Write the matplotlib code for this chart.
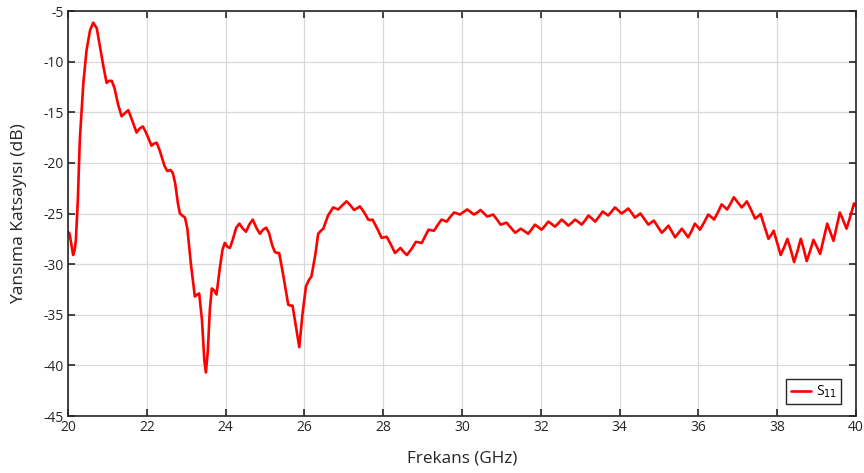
import matplotlib
matplotlib.use("Agg")
import matplotlib.pyplot as plt

plt.rcParams['font.family'] = ['Open Sans', 'DejaVu Sans']

# Measured reflection coefficient S11 (dB) versus frequency (GHz)
freq_ghz = [
    20.00, 20.04, 20.09, 20.13, 20.17, 20.20, 20.25, 20.30, 20.35, 20.39,
    20.47, 20.56, 20.64, 20.73, 20.81, 20.90, 20.98, 21.04, 21.11, 21.18,
    21.27, 21.36, 21.44, 21.53, 21.60, 21.74, 21.82, 21.90, 21.98, 22.12,
    22.18, 22.25, 22.33, 22.45, 22.52, 22.60, 22.66, 22.72, 22.79, 22.84,
    22.90, 22.97, 23.03, 23.12, 23.22, 23.28, 23.33, 23.40, 23.46, 23.50,
    23.55, 23.60, 23.65, 23.71, 23.77, 23.85, 23.92, 23.98, 24.05, 24.11,
    24.18, 24.27, 24.35, 24.44, 24.52, 24.60, 24.69, 24.78, 24.87, 24.95,
    25.03, 25.10, 25.18, 25.25, 25.31, 25.36, 25.45, 25.59, 25.65, 25.70,
    25.80, 25.87, 25.95, 26.04, 26.11, 26.18, 26.28, 26.35, 26.42, 26.48,
    26.60, 26.73, 26.86, 26.96, 27.07, 27.17, 27.26, 27.33, 27.41, 27.52,
    27.62, 27.68, 27.73, 27.85, 27.96, 28.02, 28.09, 28.20, 28.30, 28.37,
    28.44, 28.52, 28.60, 28.72, 28.83, 28.90, 28.98, 29.07, 29.15, 29.22,
    29.29, 29.39, 29.48, 29.55, 29.61, 29.71, 29.80, 29.88, 29.95, 30.04,
    30.13, 30.22, 30.30, 30.39, 30.47, 30.56, 30.64, 30.72, 30.79, 30.89,
    30.98, 31.06, 31.13, 31.24, 31.35, 31.42, 31.49, 31.59, 31.68, 31.77,
    31.85, 31.94, 32.02, 32.11, 32.19, 32.28, 32.36, 32.45, 32.53, 32.62,
    32.70, 32.79, 32.87, 32.96, 33.04, 33.13, 33.21, 33.30, 33.38, 33.48,
    33.57, 33.64, 33.71, 33.80, 33.88, 33.97, 34.05, 34.14, 34.22, 34.31,
    34.39, 34.46, 34.53, 34.63, 34.73, 34.80, 34.87, 34.97, 35.07, 35.16,
    35.24, 35.33, 35.41, 35.50, 35.58, 35.66, 35.74, 35.83, 35.91, 35.98,
    36.04, 36.15, 36.25, 36.33, 36.40, 36.50, 36.59, 36.66, 36.73, 36.82,
    36.90, 37.00, 37.10, 37.17, 37.23, 37.34, 37.44, 37.51, 37.58, 37.68,
    37.78, 37.85, 37.91, 38.00, 38.09, 38.18, 38.26, 38.35, 38.43, 38.52,
    38.60, 38.68, 38.75, 38.84, 38.92, 39.01, 39.09, 39.18, 39.27, 39.35,
    39.43, 39.51, 39.59, 39.68, 39.76, 39.86, 39.95, 40.00,
]
s11_db = [
    -26.8, -27.0, -28.2, -29.1, -28.6, -27.6, -23.7, -17.7, -14.5, -12.1,
    -8.9, -6.9, -6.15, -6.7, -8.5, -10.5, -12.1, -11.9, -11.9, -12.6,
    -14.2, -15.4, -15.1, -14.8, -15.5, -17.0, -16.6, -16.4, -17.0, -18.3,
    -18.1, -18.0, -18.8, -20.3, -20.8, -20.7, -21.0, -22.0, -24.0, -25.0,
    -25.2, -25.4, -26.5, -30.0, -33.2, -33.0, -32.9, -35.5, -39.5, -40.7,
    -38.5, -34.5, -32.4, -32.6, -33.0, -30.5, -28.6, -27.9, -28.3, -28.4,
    -27.6, -26.4, -26.0, -26.5, -26.8, -26.1, -25.6, -26.4, -27.0, -26.6,
    -26.4, -26.9, -28.1, -28.8, -28.9, -28.9, -30.8, -34.0, -34.1, -34.1,
    -36.5, -38.2, -35.0, -32.2, -31.6, -31.2, -29.0, -27.0, -26.7, -26.5,
    -25.2, -24.4, -24.6, -24.2, -23.8, -24.2, -24.65, -24.5, -24.3, -24.9,
    -25.6, -25.65, -25.6, -26.5, -27.4, -27.35, -27.3, -28.1, -28.9, -28.65,
    -28.4, -28.8, -29.1, -28.5, -27.8, -27.85, -27.9, -27.2, -26.6, -26.65,
    -26.7, -26.1, -25.6, -25.7, -25.8, -25.3, -24.9, -25.0, -25.1, -24.85,
    -24.6, -24.85, -25.1, -24.9, -24.65, -25.0, -25.3, -25.2, -25.1, -25.6,
    -26.1, -26.0, -25.9, -26.4, -26.9, -26.7, -26.5, -26.75, -27.0, -26.55,
    -26.1, -26.35, -26.6, -26.2, -25.8, -26.05, -26.3, -25.95, -25.6, -25.9,
    -26.2, -25.9, -25.6, -25.85, -26.1, -25.65, -25.2, -25.5, -25.8, -25.3,
    -24.8, -25.0, -25.2, -24.8, -24.4, -24.7, -25.0, -24.75, -24.5, -24.95,
    -25.4, -25.2, -25.0, -25.55, -26.1, -25.9, -25.7, -26.3, -26.9, -26.55,
    -26.2, -26.8, -27.35, -26.9, -26.5, -26.9, -27.35, -26.7, -26.0, -26.3,
    -26.6, -25.85, -25.1, -25.35, -25.6, -24.85, -24.1, -24.35, -24.6, -24.0,
    -23.4, -23.9, -24.4, -24.1, -23.8, -24.65, -25.5, -25.3, -25.05, -26.3,
    -27.5, -27.1, -26.7, -27.9, -29.1, -28.3, -27.5, -28.65, -29.8, -28.65,
    -27.5, -28.6, -29.7, -28.65, -27.6, -28.3, -29.0, -27.5, -26.0, -26.85,
    -27.7, -26.3, -24.9, -25.7, -26.5, -25.25, -24.0, -24.3,
]

x_ticks = [20, 22, 24, 26, 28, 30, 32, 34, 36, 38, 40]
y_ticks = [-45, -40, -35, -30, -25, -20, -15, -10, -5]

fig = plt.figure(figsize=(8.64, 4.73), dpi=100)
ax = fig.add_axes([0.0787, 0.1205, 0.9120, 0.8562])

ax.plot(freq_ghz, s11_db, color='#ff0000', linewidth=1.9,
        solid_joinstyle='round', solid_capstyle='round', label='S$_{11}$')

ax.set_xlim(20, 40)
ax.set_ylim(-45, -5)
ax.set_xticks(x_ticks)
ax.set_yticks(y_ticks)
ax.set_xticklabels([str(t) for t in x_ticks])
ax.set_yticklabels([str(t) for t in y_ticks])

ax.grid(True, color='#d9d9d9', linewidth=0.9)
ax.set_axisbelow(True)

for side in ['left', 'right', 'top', 'bottom']:
    ax.spines[side].set_color('#262626')
    ax.spines[side].set_linewidth(1.2)

ax.tick_params(axis='both', direction='in', length=5, width=1.2,
               color='#262626', labelsize=10, labelcolor='#262626',
               top=True, right=True, pad=3)

ax.set_xlabel('Frekans (GHz)', fontsize=12.3, color='#262626', labelpad=11)
ax.set_ylabel('Yansıma Katsayısı (dB)', fontsize=12.6, color='#262626',
              labelpad=12)

leg = ax.legend(loc='lower right', fontsize=10, frameon=True, fancybox=False,
                edgecolor='#262626', framealpha=1, handlelength=1.5,
                handletextpad=0.3, borderpad=0.3, borderaxespad=0,
                bbox_to_anchor=(0.981, 0.0296))
leg.get_frame().set_linewidth(1.0)

fig.savefig('out.png', dpi=100)
